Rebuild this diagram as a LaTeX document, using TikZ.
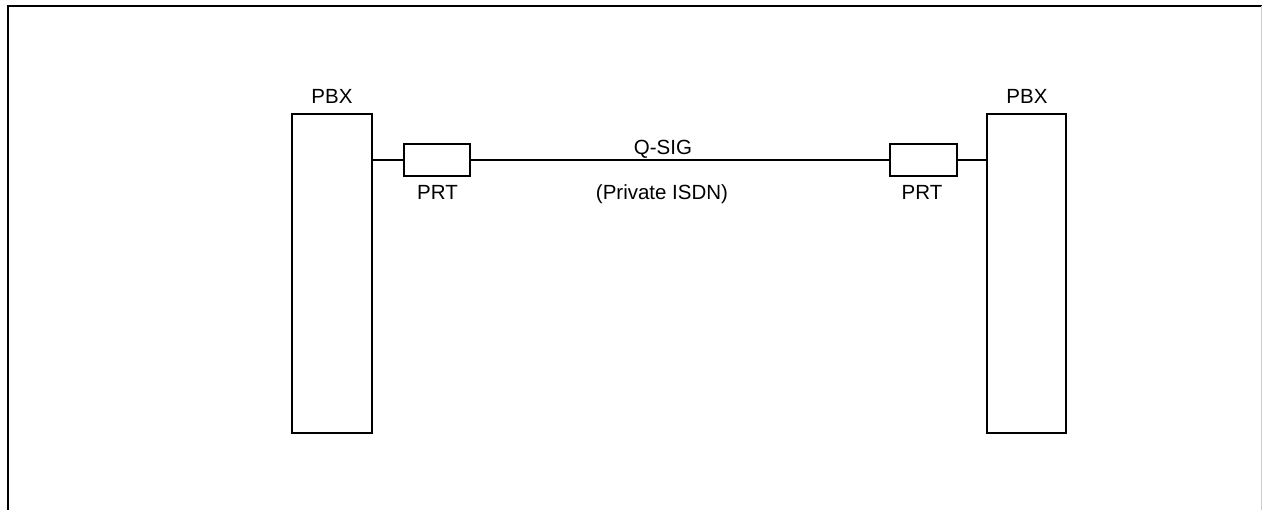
\documentclass[tikz,border=0pt]{standalone}
\usepackage{fontspec}
\setmainfont{Liberation Sans}
\begin{document}
\begin{tikzpicture}[x=1pt,y=-1pt,
  box/.style={draw=black,line width=2pt,inner sep=0pt,fill=white},
  lbl/.style={anchor=base,inner sep=0pt,font=\fontsize{20.5}{24}\selectfont},
  wire/.style={line width=2pt}]
\useasboundingbox (0,0) rectangle (1262,510);
\draw[line width=2.5pt,line cap=rect] (8,510) -- (8,6) -- (1262,6);
\draw[gray!40,line width=1pt] (1261,6) -- (1261,510);
\node[box,minimum width=80pt,minimum height=319pt] (pbxL) at (332,273.5) {};
\node[box,minimum width=79pt,minimum height=319pt] (pbxR) at (1026.5,273.5) {};
\node[box,minimum width=66pt,minimum height=32pt] (prtL) at (437,160) {};
\node[box,minimum width=67pt,minimum height=32pt] (prtR) at (923.5,160) {};
\draw[wire] (pbxL.east |- prtL.west) -- (prtL.west);
\draw[wire] (prtL.east) -- (prtR.west);
\draw[wire] (prtR.east) -- (pbxR.west |- prtR.east);
\node[lbl] (tpbxL) at (332,104) {PBX};
\node[lbl] (tpbxR) at (1027,104) {PBX};
\node[lbl] (tprtL) at (437.5,200) {PRT};
\node[lbl] (tprtR) at (922,200) {PRT};
\node[lbl] (tqsig) at (663,155) {Q-SIG};
\node[lbl] (tisdn) at (662,200) {(Private ISDN)};
\end{tikzpicture}
\end{document}
